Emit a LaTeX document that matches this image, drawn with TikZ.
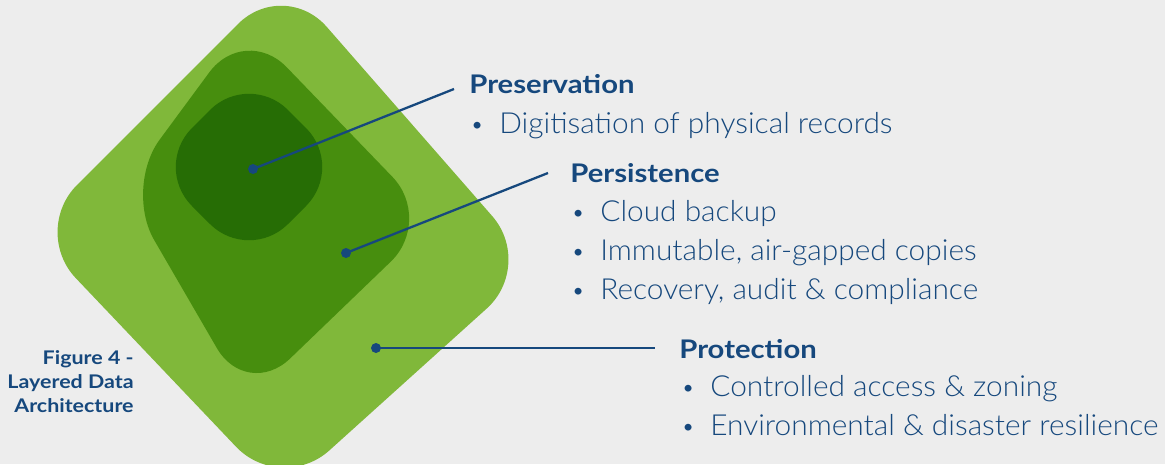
\documentclass[tikz,border=0pt]{standalone}
\usepackage{fontspec}
\setmainfont{Lato}
\newfontfamily\headfont{Lato}[FakeStretch=1.14]
\newfontfamily\captionfont{Lato}[FakeStretch=1.14]
\newfontfamily\lightfont{Lato Light}[FakeStretch=1.03]
\usepackage{tikz}
\usetikzlibrary{positioning}

\definecolor{paper}{RGB}{237,237,237}
\definecolor{outergreen}{RGB}{128,184,58}
\definecolor{midgreen}{RGB}{71,142,14}
\definecolor{innergreen}{RGB}{38,109,5}
\definecolor{navy}{RGB}{22,72,125}

\tikzset{
  pin/.style={navy, line width=1.3pt},
  pindot/.style={circle, fill=navy, inner sep=0pt, minimum size=0.2cm},
  heading/.style={anchor=base west, inner sep=0pt, text=navy,
    font=\headfont\fontsize{14.6}{16}\selectfont\bfseries},
  item/.style={anchor=base west, inner sep=0pt, text=navy,
    font=\lightfont\fontsize{16.5}{18}\selectfont},
}
\newcommand{\itembullet}{\makebox[0.58cm][l]{\raisebox{0.5pt}{\fontsize{13}{13}\selectfont\textbullet}}}

\begin{document}
\begin{tikzpicture}[x=0.02cm, y=-0.02cm]
    \fill[paper] (0,0) rectangle (1165,464);
    \useasboundingbox (0,0) rectangle (1165,464);

    % three nested layers
    \fill[outergreen, rounded corners=1.3cm] (31,231) -- (281,494) -- (535,265) -- (284,-22) -- cycle;
    \fill[midgreen, rounded corners=1.2cm] (124,188) -- (247,400) -- (434,220) -- (245,24) -- cycle;
    \fill[innergreen, rounded corners=1.1cm] (153,167) -- (249,263) -- (345,167) -- (249,71) -- cycle;

    % labels
    \node[heading] (preservation) at (469,93) {Preservation};
    \node[item] (digitisation) at (470,133) {\itembullet Digitisation of physical records};

    \node[heading] (persistence) at (570,182) {Persistence};
    \node[item] (cloud) at (571,221) {\itembullet Cloud backup};
    \node[item] (immutable) at (571,260) {\itembullet Immutable, air-gapped copies};
    \node[item] (recovery) at (571,299) {\itembullet Recovery, audit \& compliance};

    \node[heading] (protection) at (679,358) {Protection};
    \node[item] (controlled) at (681,396) {\itembullet Controlled access \& zoning};
    \node[item] (environmental) at (681,435) {\itembullet Environmental \& disaster resilience};

    \node[anchor=north east, inner sep=0pt, align=right, text=navy,
      font=\captionfont\fontsize{10.7}{13.6}\selectfont\bfseries] (caption) at (134,350)
      {Figure 4 -\\Layered Data\\Architecture};

    % pointers from each layer
    \node[pindot] (presdot) at (253,169) {};
    \node[pindot] (persdot) at (346,253) {};
    \node[pindot] (protdot) at (376,348) {};
    \coordinate (presend) at (454,89);
    \coordinate (persend) at (548,173);
    \coordinate (protend) at (655,348);
    \draw[pin] (presdot.center) -- (presend);
    \draw[pin] (persdot.center) -- (persend);
    \draw[pin] (protdot.center) -- (protend);
\end{tikzpicture}
\end{document}
